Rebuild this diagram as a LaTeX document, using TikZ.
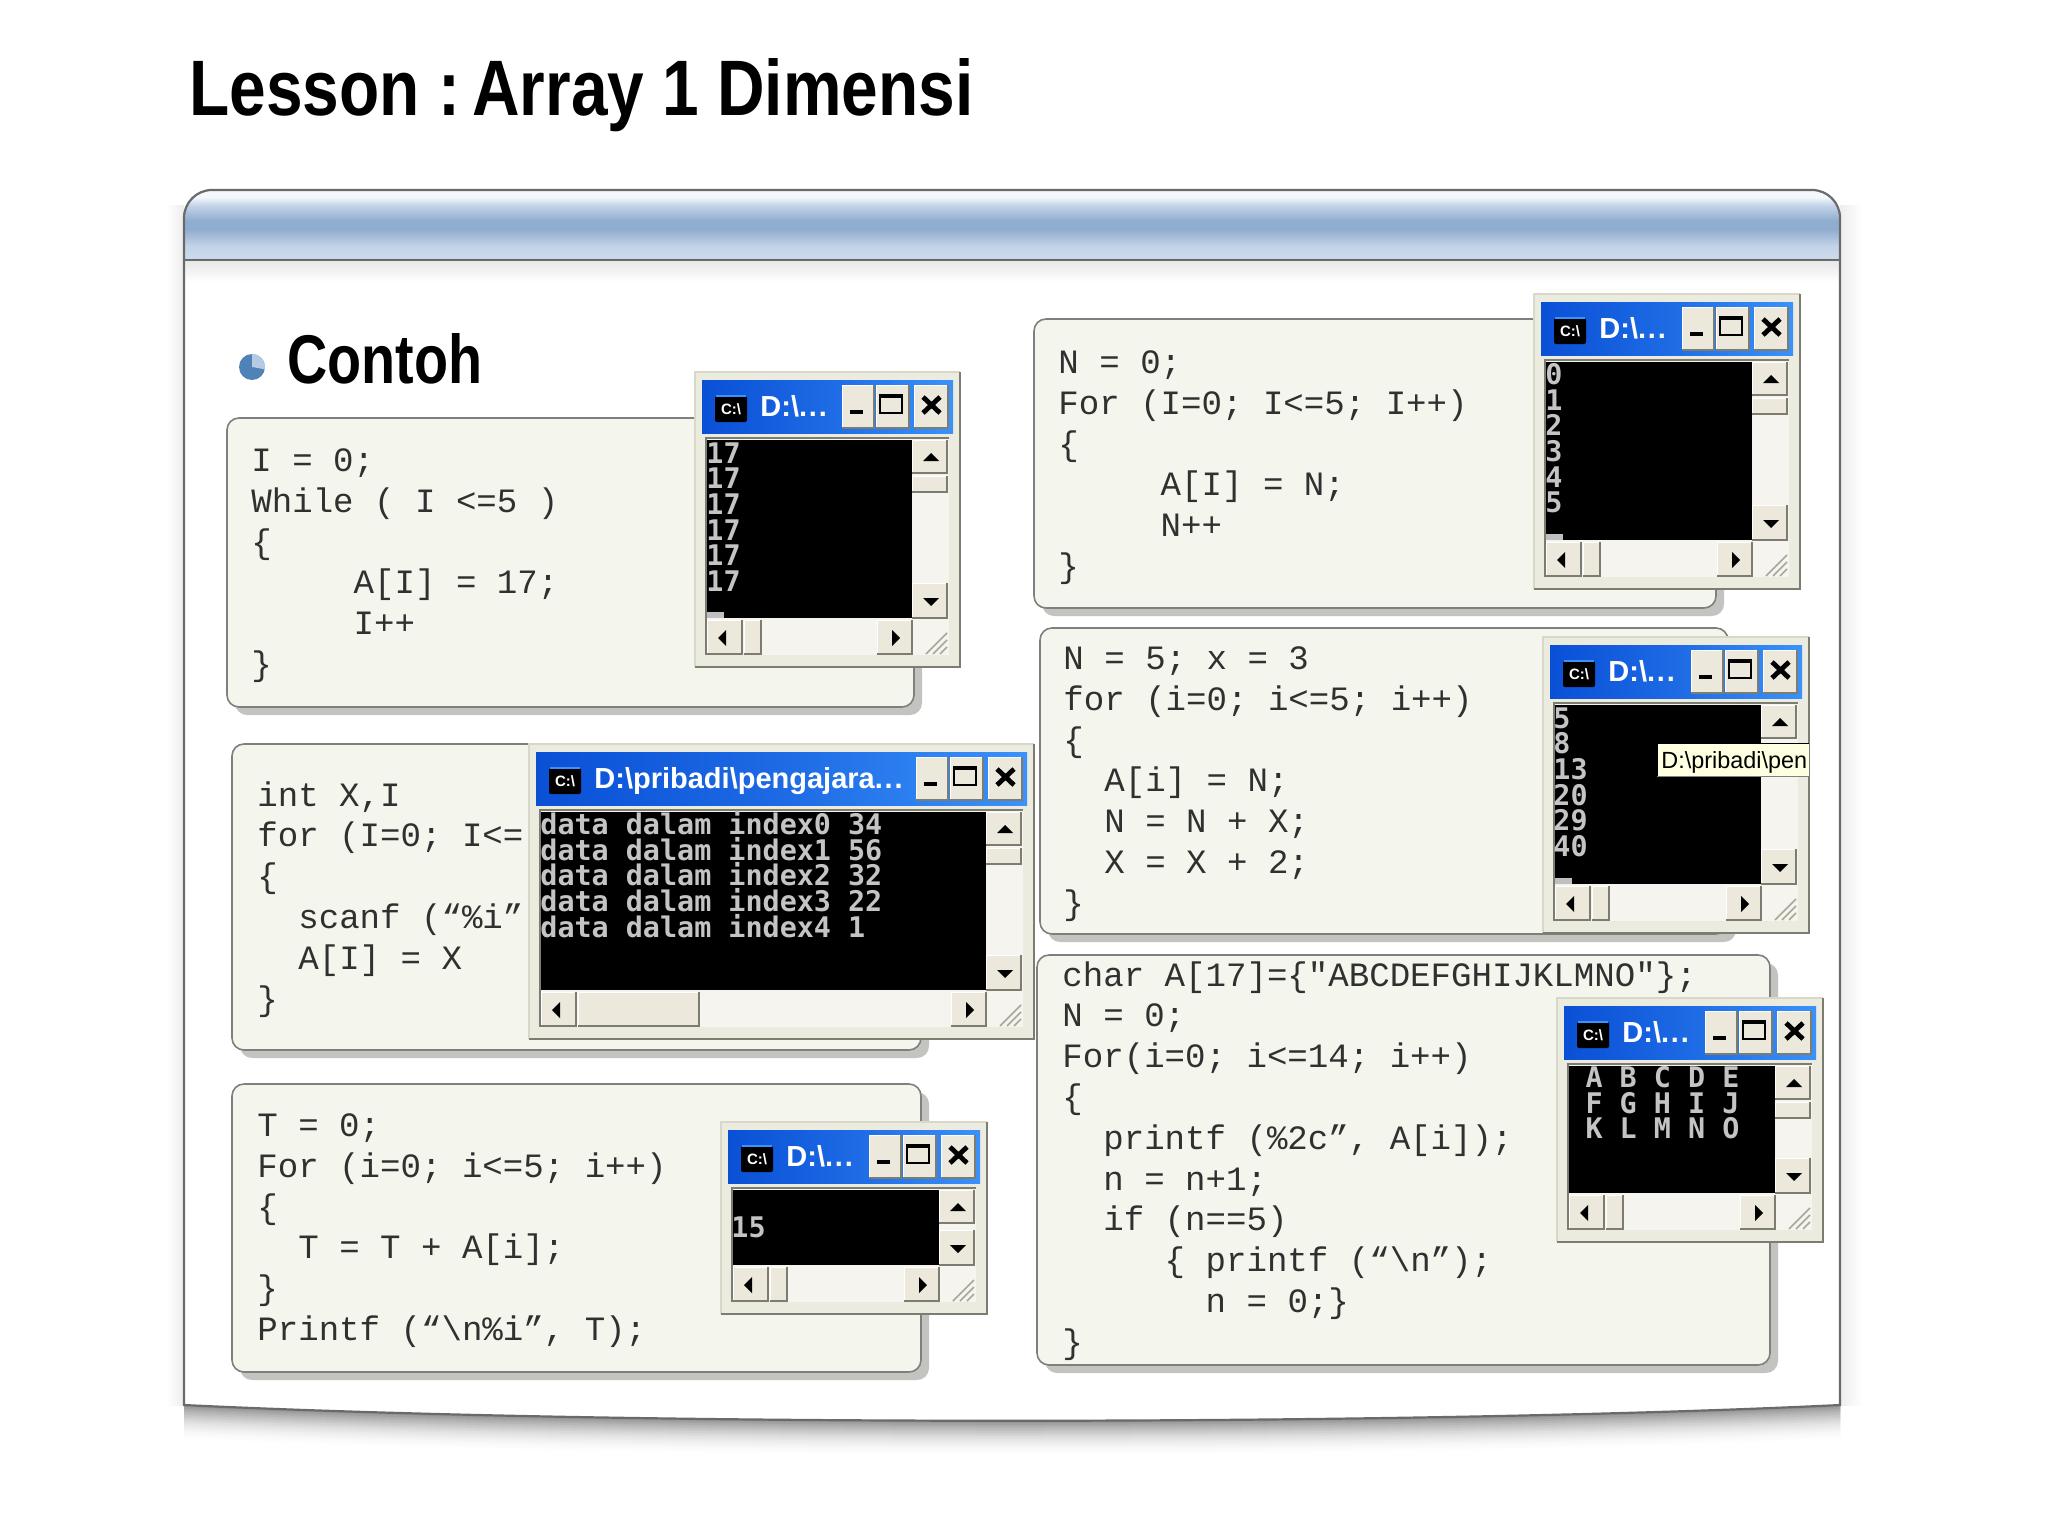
\documentclass[tikz,border=0pt]{standalone}
\usepackage{fontspec}
\usepackage{graphicx}
\setmainfont{Liberation Sans}
\newfontfamily\codefont{Liberation Mono}
\newfontfamily\consolefont{DejaVu Sans Mono}
\definecolor{boxfill}{HTML}{F4F5EC}
\definecolor{boxline}{HTML}{7F7F7F}
\definecolor{boxshadow}{HTML}{C3C3BF}
\definecolor{panelline}{HTML}{6A6A6A}
\definecolor{framefill}{HTML}{ECEBDF}
\definecolor{framedark}{HTML}{7C7C70}
\definecolor{framelight}{HTML}{D9D7C8}
\definecolor{btnfill}{HTML}{ECE9DC}
\definecolor{track}{HTML}{F5F4EE}
\definecolor{titleL}{HTML}{0A50D6}
\definecolor{titleR}{HTML}{3A92FA}
\definecolor{consoletext}{HTML}{C4C4C4}
\definecolor{bulletD}{HTML}{4F82B6}
\definecolor{bulletL}{HTML}{B4CBE3}
\definecolor{tipfill}{HTML}{FFFFE1}
\definecolor{gripc}{HTML}{A8A898}
\definecolor{codeink}{HTML}{303030}
\definecolor{HdrA}{HTML}{8FADCF}
\definecolor{HdrB}{HTML}{C3D3E8}
\definecolor{HdrC}{HTML}{CBDAEC}
\definecolor{HdrW}{HTML}{F4F8FC}
\definecolor{HdrG}{HTML}{737373}
\pgfdeclareverticalshading{hdrshade}{100bp}{
 color(0bp)=(HdrG);
 color(25bp)=(HdrG);
 color(26.5bp)=(HdrC);
 color(35bp)=(HdrB);
 color(47bp)=(HdrA);
 color(53bp)=(HdrA);
 color(64bp)=(HdrB);
 color(70bp)=(HdrW);
 color(100bp)=(HdrW)}
\tikzset{
  boxshape/.style={fill=boxfill,draw=boxline,line width=.8pt,rounded corners=6pt},
  boxshade/.style={fill=boxshadow,rounded corners=6pt},
  codetxt/.style={anchor=north west,inner sep=0pt,align=left,text=codeink,
    font=\codefont\fontsize{17.05pt}{20.4pt}\selectfont},
  consoletxt/.style={anchor=north west,inner sep=0pt,align=left,text=consoletext,
    font=\consolefont\bfseries\fontsize{14.2pt}{12.85pt}\selectfont},
  wintitle/.style={anchor=base west,inner sep=0pt,text=white,
    font=\bfseries\fontsize{14.5pt}{14.5pt}\selectfont},
  iconlabel/.style={inner sep=0pt,text=white,font=\bfseries\fontsize{7.5pt}{7.5pt}\selectfont},
  btnface/.style={fill=btnfill},
  btnedge/.style={draw=framedark,line width=.9pt},
  glyph/.style={fill=black},
}
\newcommand{\codebox}[4]{%
  \fill[boxshade] ({#1+8},{#2+8}) rectangle ({#3+8},{#4+8});
  \draw[boxshape] (#1,#2) rectangle (#3,#4);}
\newcommand{\codeblock}[4]{\node[codetxt] (#1) at (#2,#3) {\rule{0pt}{12pt}#4};}
\newcommand{\xpbtn}[4]{%
  \fill[btnface] ({#1},{#2}) rectangle ({#3},{#4});
  \draw[white,line width=.4pt] ({#1},{#4}) -- ({#1},{#2}) -- ({#3},{#2});
  \draw[btnedge] ({#1},{#4}) -- ({#3},{#4}) -- ({#3},{#2});}
\newcommand{\xpdots}{.\kern.9pt.\kern.9pt.}
% name, x, y, W, H, title, h-thumb width, v-thumb (1/0), cursor (1/0)
\newcommand{\consolewin}[9]{%
\begin{scope}[shift={(#2,#3)}]
  \def\W{#4}\def\H{#5}
  \fill[framefill] (0,0) rectangle (\W,\H);
  \draw[framelight,line width=1pt] (0,\H) -- (0,0) -- (\W,0);
  \draw[framedark,line width=1.4pt] (0,\H) -- (\W,\H) -- (\W,0);
  \shade[left color=titleL,right color=titleR,middle color=titleL!60!titleR] (7,8) rectangle ({\W-7},61);
  \fill[track] (11,66) rectangle ({\W-11},{\H-12});
  \draw[framedark,line width=.9pt] (11,{\H-12}) -- (11,66) -- ({\W-11},66);
  \fill[black] (12,68) rectangle ({\W-48},{\H-49});
  \xpbtn{\W-48}{68}{\W-13}{101}
  \fill[black] ({\W-37},89) -- ({\W-21},89) -- ({\W-29},81) -- cycle;
  \ifnum#8=1 \xpbtn{\W-48}{104}{\W-13}{120}\fi
  \xpbtn{\W-48}{\H-84}{\W-13}{\H-49}
  \fill[black] ({\W-37},{\H-69}) -- ({\W-21},{\H-69}) -- ({\W-29},{\H-61}) -- cycle;
  \xpbtn{12}{\H-47}{47}{\H-13}
  \fill[black] (31,{\H-37}) -- (31,{\H-21}) -- (23,{\H-29}) -- cycle;
  \xpbtn{49}{\H-47}{49+#7}{\H-13}
  \xpbtn{\W-83}{\H-47}{\W-48}{\H-13}
  \fill[black] ({\W-68},{\H-37}) -- ({\W-68},{\H-21}) -- ({\W-60},{\H-29}) -- cycle;
  \draw[gripc,line width=.8pt] ({\W-13},{\H-34}) -- ({\W-34},{\H-13})
    ({\W-13},{\H-27}) -- ({\W-27},{\H-13}) ({\W-13},{\H-20}) -- ({\W-20},{\H-13});
  \ifnum#9=1 \fill[black!25] (12,{\H-55}) rectangle (29,{\H-49});\fi
  % caption buttons
  \xpbtn{\W-118}{13}{\W-86}{56}
  \fill[glyph] ({\W-110},38) rectangle ({\W-97},42);
  \xpbtn{\W-84}{13}{\W-51}{56}
  \draw[black,line width=1.2pt] ({\W-80},24) rectangle ({\W-58},41);
  \fill[glyph] ({\W-81},22) rectangle ({\W-57},26);
  \xpbtn{\W-46}{13}{\W-12}{56}
  \draw[black,line width=2.4pt] ({\W-37},25) -- ({\W-20},41) ({\W-37},41) -- ({\W-20},25);
  % icon
  \fill[black,rounded corners=1pt] (20,24) rectangle (52,50);
  \draw[titleR,line width=.8pt] (21,24) -- (51,24);
  \node[iconlabel] (#1-icon) at (36,37) {C:\textbackslash};
  \node[wintitle] (#1-title) at (65,44) {#6};
\end{scope}}
\newcommand{\consoletext}[4]{\node[consoletxt] (#1) at (#2,#3) {\rule{0pt}{10pt}#4};}
\begin{document}
\begin{tikzpicture}[x=.5pt,y=-.5pt]
\useasboundingbox (0,0) rectangle (2048,1536);
\fill[white] (0,0) rectangle (2048,1536);
% slide title
\node[anchor=base west,inner sep=0pt] (slidetitle) at (189,115)
  {\resizebox{392pt}{28.5pt}{\bfseries Lesson :\kern-.09em\ Array 1 Dimensi}};
% panel
\def\panelpath{(184,1405) [rounded corners=14pt] -- (184,190) -- (1840,190) [sharp corners] -- (1840,1405) .. controls (1400,1426) and (620,1426) .. (184,1405) -- cycle}
\shade[left color=white,right color=black!7] (166,205) rectangle (184,1405);
\shade[left color=black!7,right color=white] (1840,205) rectangle (1862,1405);
\foreach \d in {38,36,...,2}{
  \pgfmathsetmacro\m{46*((38-\d)/38)^2}
  \fill[black!\m] ([yshift=-\d*.5pt]184,1405) .. controls ([yshift=-\d*.5pt]620,1426) and ([yshift=-\d*.5pt]1400,1426) .. ([yshift=-\d*.5pt]1840,1405) -- (1840,1300) -- (184,1300) -- cycle;
}
\fill[white] \panelpath;
\begin{scope}
  \clip \panelpath;
  \shade[shading=hdrshade] (170,190) rectangle (1850,260);
  \shade[top color=black!9,bottom color=white] (170,261) rectangle (1850,282);
\end{scope}
\draw[panelline,line width=.9pt] (184,260) -- (1840,260);
\draw[panelline,line width=1.1pt] \panelpath;
% section heading
\fill[bulletD] (252,367) circle (13);
\fill[bulletL] (252,367) -- (252,354) arc (-90:10:13) -- cycle;
\node[anchor=base west,inner sep=0pt] (contoh) at (287,383)
  {\resizebox{97.5pt}{25pt}{\bfseries Contoh}};
% code boxes
\codebox{227}{418}{914}{707}
\codebox{232}{744}{921}{1050}
\codebox{232}{1084}{921}{1372}
\codebox{1034}{319}{1716}{608}
\codebox{1040}{628}{1728}{934}
\codebox{1037}{955}{1770}{1365}
\codeblock{code1}{251}{447}{I = 0;\\While ( I <=5 )\\\{\\~~~~~A[I] = 17;\\~~~~~I++\\\}}
\codeblock{code2}{257}{781}{int X,I\\for (I=0; I<=\\\{\\~~scanf (“\%i”\\~~A[I] = X\\\}}
\codeblock{code3}{257}{1112}{T = 0;\\For (i=0; i<=5; i++)\\\{\\~~T = T + A[i];\\\}\\Printf (“\textbackslash n\%i”, T);}
\codeblock{code4}{1058}{349}{N = 0;\\For (I=0; I<=5; I++)\\\{\\~~~~~A[I] = N;\\~~~~~N++\\\}}
\codeblock{code5}{1063}{645}{N = 5; x = 3\\for (i=0; i<=5; i++)\\\{\\~~A[i] = N;\\~~N = N + X;\\~~X = X + 2;\\\}}
\codeblock{code6}{1062}{961}{char A[17]=\{"ABCDEFGHIJKLMNO"\};\\N = 0;\\For(i=0; i<=14; i++)\\\{\\~~printf (\%2c”, A[i]);\\~~n = n+1;\\~~if (n==5)\\~~~~~\{ printf (“\textbackslash n”);\\~~~~~~~n = 0;\}\\\}}
% windows
\consolewin{w1}{695}{372}{265}{295}{D:\textbackslash\xpdots}{17}{1}{1}
\consoletext{out1}{706}{442}{17\\17\\17\\17\\17\\17}
\consolewin{w2}{529}{744}{505}{295}{D:\textbackslash pribadi\textbackslash pengajara\xpdots}{121}{1}{0}
\consoletext{out2}{540}{811}{data dalam index0 34\\data dalam index1 56\\data dalam index2 32\\data dalam index3 22\\data dalam index4 1}
\consolewin{w3}{721}{1122}{266}{192}{D:\textbackslash\xpdots}{17}{0}{0}
\consoletext{out3}{731}{1216}{15}
\consolewin{w4}{1534}{294}{266}{295}{D:\textbackslash\xpdots}{17}{1}{1}
\consoletext{out4}{1545}{363}{0\\1\\2\\3\\4\\5}
\consolewin{w5}{1543}{637}{266}{296}{D:\textbackslash\xpdots}{17}{0}{1}
\consoletext{out5}{1553}{707}{5\\8\\13\\20\\29\\40}
\consolewin{w6}{1557}{998}{266}{244}{D:\textbackslash\xpdots}{17}{1}{0}
\consoletext{out6}{1568}{1066}{~A~B~C~D~E\\~F~G~H~I~J\\~K~L~M~N~O}
% tooltip
\fill[tipfill] (1657,743) rectangle (1809,776);
\draw[black,line width=.5pt] (1657,776) -- (1657,743) -- (1809,743);
\draw[black!50,line width=.4pt] (1657,776) -- (1809,776);
\node[anchor=base west,inner sep=0pt,font=\fontsize{11.7pt}{12pt}\selectfont] (tooltip) at (1661,768)
  {D:\textbackslash pribadi\textbackslash pen};
\end{tikzpicture}
\end{document}
